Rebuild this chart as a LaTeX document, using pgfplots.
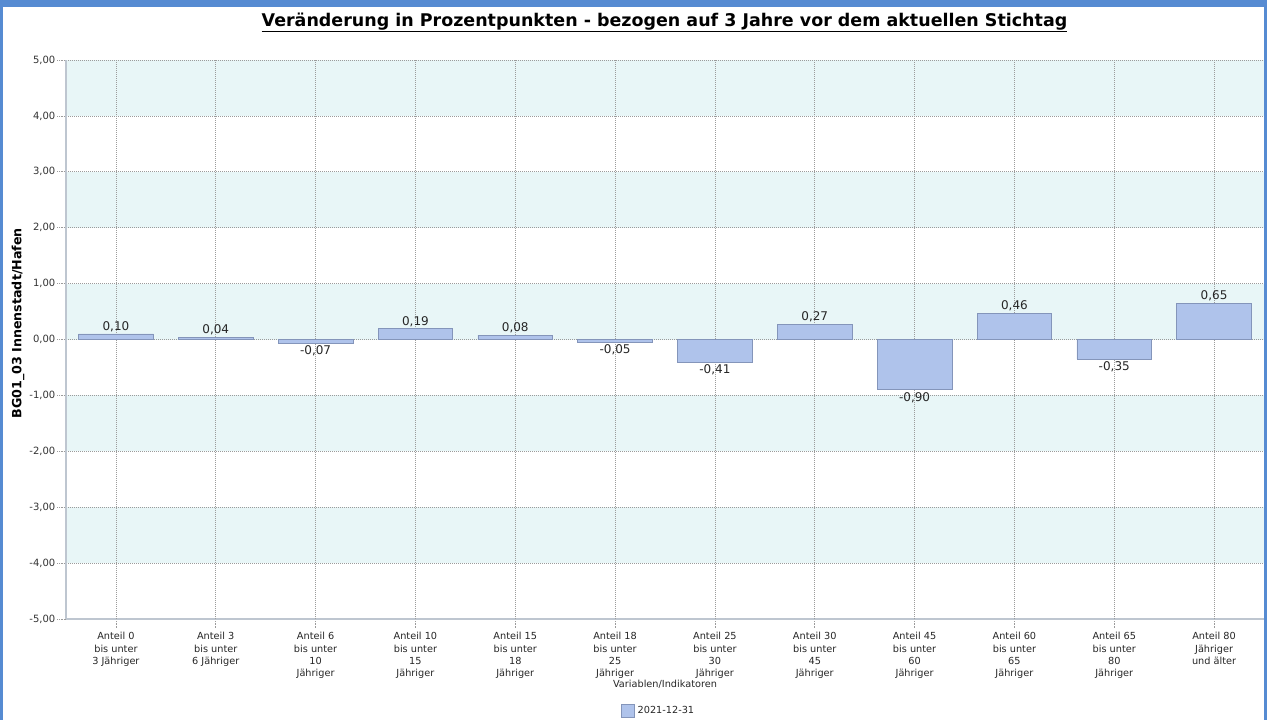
\documentclass[border=0pt]{standalone}
\usepackage{fontspec}
\setmainfont{DejaVu Sans}
\usepackage{pgfplots}
\pgfplotsset{compat=1.18}
\definecolor{frameblue}{RGB}{86,139,210}
\definecolor{band}{RGB}{232,246,247}
\definecolor{barfill}{RGB}{175,195,235}
\definecolor{barline}{RGB}{132,149,186}
\definecolor{gridc}{RGB}{155,155,155}
\definecolor{axisc}{RGB}{190,198,208}
\begin{document}
\begin{tikzpicture}[x=0.75pt,y=0.75pt]
\path (0,0) rectangle (1267,720);
\node[font=\bfseries\fontsize{13.1}{15}\selectfont] at (664.5,697.5) {\underline{Veränderung in Prozentpunkten - bezogen auf 3 Jahre vor dem aktuellen Stichtag}};
\begin{axis}[
  at={(49.5pt,75.75pt)}, anchor=south west,
  scale only axis, width=898.5pt, height=419.25pt,
  xmin=-0.5, xmax=11.5, ymin=-5, ymax=5,
  ytick={-5,-4,...,5},
  xtick={0,...,11},
  xticklabels={{Anteil 0\\bis unter\\3 Jähriger},{Anteil 3\\bis unter\\6 Jähriger},{Anteil 6\\bis unter\\10\\Jähriger},{Anteil 10\\bis unter\\15\\Jähriger},{Anteil 15\\bis unter\\18\\Jähriger},{Anteil 18\\bis unter\\25\\Jähriger},{Anteil 25\\bis unter\\30\\Jähriger},{Anteil 30\\bis unter\\45\\Jähriger},{Anteil 45\\bis unter\\60\\Jähriger},{Anteil 60\\bis unter\\65\\Jähriger},{Anteil 65\\bis unter\\80\\Jähriger},{Anteil 80\\Jähriger\\und älter}},
  axis lines*=left,
  axis line style={-, axisc, line width=0.8pt},
  grid=none,
  tick style={gridc, densely dotted, line width=0.5pt},
  tick align=outside, major tick length=6.5pt,
  yticklabel style={font=\fontsize{7.5}{9}\selectfont, text=black!80, xshift=2pt,
    /pgf/number format/.cd, fixed, fixed zerofill, precision=2, use comma, assume math mode=true},
  xticklabel style={align=center, font=\fontsize{7.3}{9.3}\selectfont, text=black!85},
  xlabel={Variablen/Indikatoren},
  xlabel style={at={(axis description cs:0.5,-0.1163)}, anchor=center, font=\fontsize{7.3}{9}\selectfont, text=black!85},
  ylabel={BG01\_03 Innenstadt/Hafen},
  ylabel style={at={(axis description cs:-0.0401,0.529)}, anchor=center, font=\bfseries\fontsize{9.5}{11}\selectfont},
  legend style={at={(axis description cs:0.495,-0.1646)}, anchor=center, draw=none, fill=none, font=\fontsize{7.3}{9}\selectfont, text=black!85},
]
\fill[band] (axis cs:-0.5,4) rectangle (axis cs:11.5,5);
\fill[band] (axis cs:-0.5,2) rectangle (axis cs:11.5,3);
\fill[band] (axis cs:-0.5,0) rectangle (axis cs:11.5,1);
\fill[band] (axis cs:-0.5,-2) rectangle (axis cs:11.5,-1);
\fill[band] (axis cs:-0.5,-4) rectangle (axis cs:11.5,-3);
\pgfplotsinvokeforeach{0,...,11}{
  \draw[gridc, densely dotted, line width=0.5pt] (axis cs:#1,-5) -- (axis cs:#1,5);
}
\pgfplotsinvokeforeach{-4,...,5}{
  \draw[gridc, densely dotted, line width=0.5pt] (axis cs:-0.5,#1) -- (axis cs:11.5,#1);
}
\draw[gridc, densely dotted, line width=0.5pt] (rel axis cs:1,0) -- (rel axis cs:1,1);
\draw[axisc, line width=0.8pt] (rel axis cs:0,0) -- (rel axis cs:0,1);
\addplot[ybar, bar width=56pt, fill=barfill, draw=barline, line width=0.6pt,
  nodes near coords={\pgfmathprintnumber[fixed,fixed zerofill,precision=2,use comma,assume math mode=true]{\pgfplotspointmeta}},
  nodes near coords align=vertical,
  every node near coord/.append style={font=\fontsize{9}{11}\selectfont, text=black!85, inner sep=1.5pt},
  legend image code/.code={\draw[fill=barfill, draw=barline] (0pt,-4.8pt) rectangle (9.75pt,4.8pt);}
] coordinates {
(0,0.10) (1,0.04) (2,-0.07) (3,0.19) (4,0.08) (5,-0.05) (6,-0.41) (7,0.27) (8,-0.90) (9,0.46) (10,-0.35) (11,0.65)
};
\addlegendentry{2021-12-31}
\end{axis}
\fill[frameblue] (0,713) rectangle (1267,720);
\fill[frameblue] (0,0) rectangle (3,720);
\fill[frameblue] (1264,0) rectangle (1267,720);
\end{tikzpicture}
\end{document}
